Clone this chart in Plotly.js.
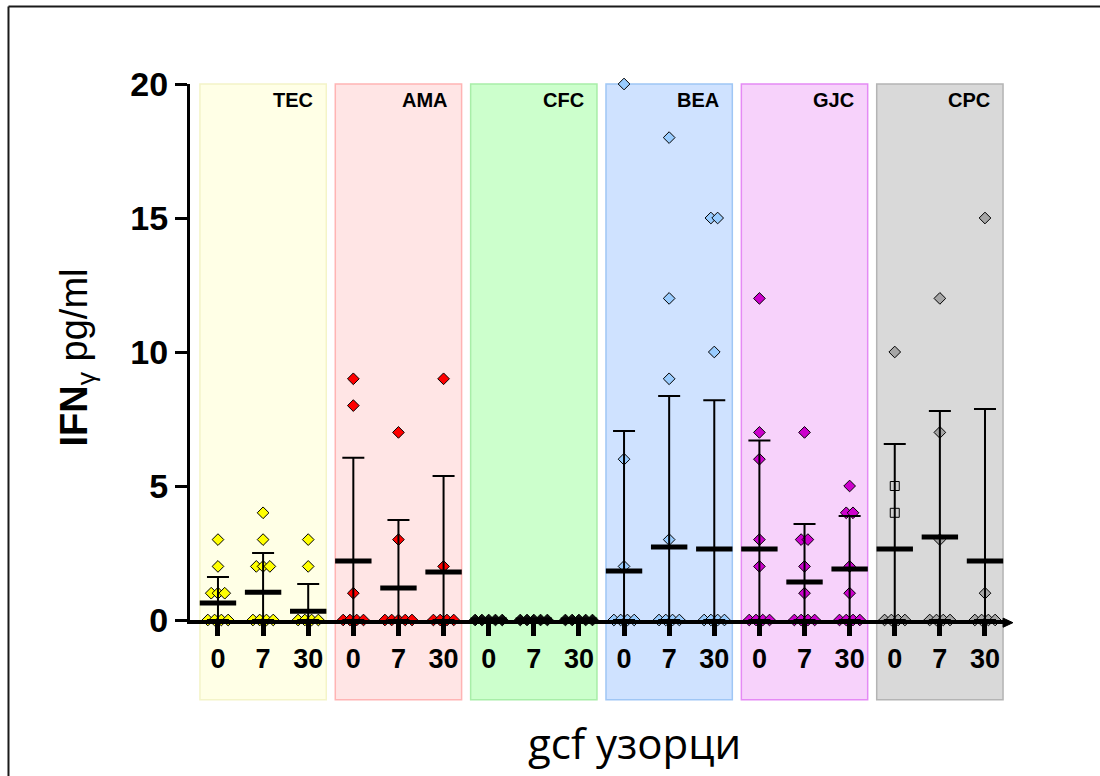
<!DOCTYPE html>
<html>
<head>
<meta charset="utf-8">
<script src="https://cdn.plot.ly/plotly-3.0.1.min.js"></script>
<style>
  html, body { margin: 0; padding: 0; background: #ffffff; }
  #chart { width: 1100px; height: 776px; }
</style>
</head>
<body>
<div id="chart"></div>
<script>
// IFN-gamma in GCF samples, six groups sampled on days 0, 7 and 30
const groups = ['TEC', 'AMA', 'CFC', 'BEA', 'GJC', 'CPC'];
const days = ['0', '7', '30'];

// individual measurements (pg/ml), one list per day
const tecValues = [[3, 2, 1, 1, 1, 0, 0, 0, 0], [4, 3, 2, 2, 2, 0, 0, 0, 0], [3, 2, 0, 0, 0, 0]];
const amaValues = [[9, 8, 1, 0, 0, 0, 0], [7, 3, 0, 0, 0, 0, 0], [9, 2, 0, 0, 0, 0]];
const cfcValues = [[0, 0, 0, 0, 0], [0, 0, 0, 0, 0], [0, 0, 0, 0, 0]];
const beaValues = [[20, 6, 2, 0, 0, 0, 0], [18, 12, 9, 3, 0, 0, 0, 0], [15, 15, 10, 0, 0, 0, 0]];
const gjcValues = [[12, 7, 6, 3, 2, 0, 0, 0, 0], [7, 3, 3, 2, 1, 0, 0, 0, 0], [5, 4, 4, 2, 1, 0, 0, 0, 0]];
const cpcValues = [[10, 5, 4, 0, 0, 0, 0], [12, 7, 3, 0, 0, 0, 0], [15, 1, 0, 0, 0, 0]];

// group means and standard deviations per day
const meanValues = [0.63, 1.04, 0.33, 2.2, 1.19, 1.79, 0, 0, 0,
                    1.83, 2.72, 2.65, 2.65, 1.42, 1.9, 2.65, 3.1, 2.2];
const sdValues = [0.97, 1.46, 1.01, 3.85, 2.54, 3.58, 0, 0, 0,
                  5.22, 5.64, 5.55, 4.05, 2.16, 1.98, 3.92, 4.7, 5.67];

const groupValues = [tecValues, amaValues, cfcValues, beaValues, gjcValues, cpcValues];

const markerFill = ['#ffff00', '#ff0000', '#111111', '#99ccff', '#cc00cc', '#a6a6a6'];
const panelFill = ['#ffffe6', '#ffe5e5', '#ccffcc', '#cfe2ff', '#f7d2fb', '#d9d9d9'];
const panelLine = ['#f4f4c8', '#ffb4b4', '#a8eea8', '#9fc6f5', '#e58af5', '#b4b4b4'];
// per-point symbol overrides (CPC, day 0 uses open squares for two samples)
const pointSymbols = {CPC: [['diamond', 'square', 'square']]};

const font = 'Liberation Sans, Arial, sans-serif';
const spread = 0.15;   // horizontal step between coincident points

const traces = [];
groupValues.forEach(function (cols, g) {
  const xs = [], ys = [], syms = [], fills = [];
  cols.forEach(function (vals, d) {
    const pos = g * 3 + d;
    const counts = {}, seen = {};
    const over = (pointSymbols[groups[g]] || [])[d] || [];
    vals.forEach(function (v) { counts[v] = (counts[v] || 0) + 1; });
    vals.forEach(function (v, i) {
      const k = seen[v] || 0;
      seen[v] = k + 1;
      xs.push(pos + (k - (counts[v] - 1) / 2) * spread);
      ys.push(v);
      const s = over[i] || 'diamond';
      syms.push(s);
      fills.push(s === 'square' ? '#d0d0d0' : markerFill[g]);
    });
  });
  traces.push({
    type: 'scatter', mode: 'markers', x: xs, y: ys, cliponaxis: false,
    hoverinfo: 'y', name: groups[g],
    marker: {symbol: syms, size: 9, color: fills, line: {color: '#000000', width: 1}}
  });
});

// mean bars with SD whiskers (lower whisker stops at zero)
const positions = meanValues.map(function (_, i) { return i; });
traces.push({
  type: 'scatter', mode: 'markers', x: positions, y: meanValues, cliponaxis: false,
  hoverinfo: 'y', name: 'mean',
  marker: {symbol: 'line-ew', size: 26, color: '#000000', line: {color: '#000000', width: 5}},
  error_y: {type: 'data', symmetric: false, array: sdValues, arrayminus: meanValues,
            color: '#000000', thickness: 2, width: 11}
});

const shapes = [];
const annotations = [];
groups.forEach(function (name, g) {
  const c = g * 3 + 1;
  shapes.push({
    type: 'rect', layer: 'below', xref: 'x', yref: 'paper',
    x0: c - 1.4, x1: c + 1.4, y0: -0.149, y1: 1,
    fillcolor: panelFill[g], line: {color: panelLine[g], width: 1.5}
  });
  annotations.push({
    x: c + 1.15, y: 20, xref: 'x', yref: 'y', xanchor: 'right', yanchor: 'top',
    yshift: -3, showarrow: false, text: name,
    font: {family: font, size: 20, weight: 700, color: '#000000'}
  });
});

// outer frame (left and top edges)
shapes.push({type: 'line', xref: 'paper', yref: 'paper', x0: -0.2219, x1: -0.2219, y0: -0.3, y1: 1.1446,
             line: {color: '#1a1a1a', width: 2}});
shapes.push({type: 'line', xref: 'paper', yref: 'paper', x0: -0.2219, x1: 1.12, y0: 1.1446, y1: 1.1446,
             line: {color: '#1a1a1a', width: 2}});

// arrow tip at the end of the x axis
shapes.push({type: 'path', xref: 'paper', yref: 'paper',
             path: 'M 0.994 0.0035 L 1.006 -0.005 L 0.994 -0.0135 Z',
             fillcolor: '#000000', line: {color: '#000000', width: 1}});

annotations.push({
  x: -0.138, y: 0.49, xref: 'paper', yref: 'paper', textangle: -90, showarrow: false,
  xanchor: 'center', yanchor: 'middle',
  text: '<b>IFN</b><sub>γ</sub> pg/ml',
  font: {family: font, size: 38, color: '#000000'}
});
annotations.push({
  x: 0.544, y: -0.228, xref: 'paper', yref: 'paper', showarrow: false,
  xanchor: 'center', yanchor: 'middle', text: 'gcf узорци',
  font: {family: 'Open Sans, sans-serif', size: 42, color: '#000000'}
});

const tickText = [];
groups.forEach(function () { days.forEach(function (d) { tickText.push(d); }); });

const layout = {
  width: 1100, height: 776,
  margin: {l: 190, r: 92, t: 84, b: 156},
  paper_bgcolor: '#ffffff', plot_bgcolor: 'rgba(0,0,0,0)',
  showlegend: false,
  xaxis: {
    range: [-0.62, 17.51], showgrid: false, zeroline: false,
    showline: true, linecolor: '#000000', linewidth: 4,
    tickmode: 'array', tickvals: positions, ticktext: tickText,
    ticks: 'outside', ticklen: 12, tickwidth: 5, tickcolor: '#000000',
    tickfont: {family: font, size: 27, weight: 700, color: '#000000'}
  },
  yaxis: {
    range: [0, 20], showgrid: false, zeroline: false,
    showline: true, linecolor: '#000000', linewidth: 3,
    tickmode: 'array', tickvals: [0, 5, 10, 15, 20],
    ticks: 'outside', ticklen: 12, tickwidth: 3, tickcolor: '#000000',
    tickfont: {family: font, size: 34, weight: 700, color: '#000000'}
  },
  shapes: shapes,
  annotations: annotations
};

Plotly.newPlot('chart', traces, layout, {displayModeBar: false, staticPlot: true});
</script>
</body>
</html>
